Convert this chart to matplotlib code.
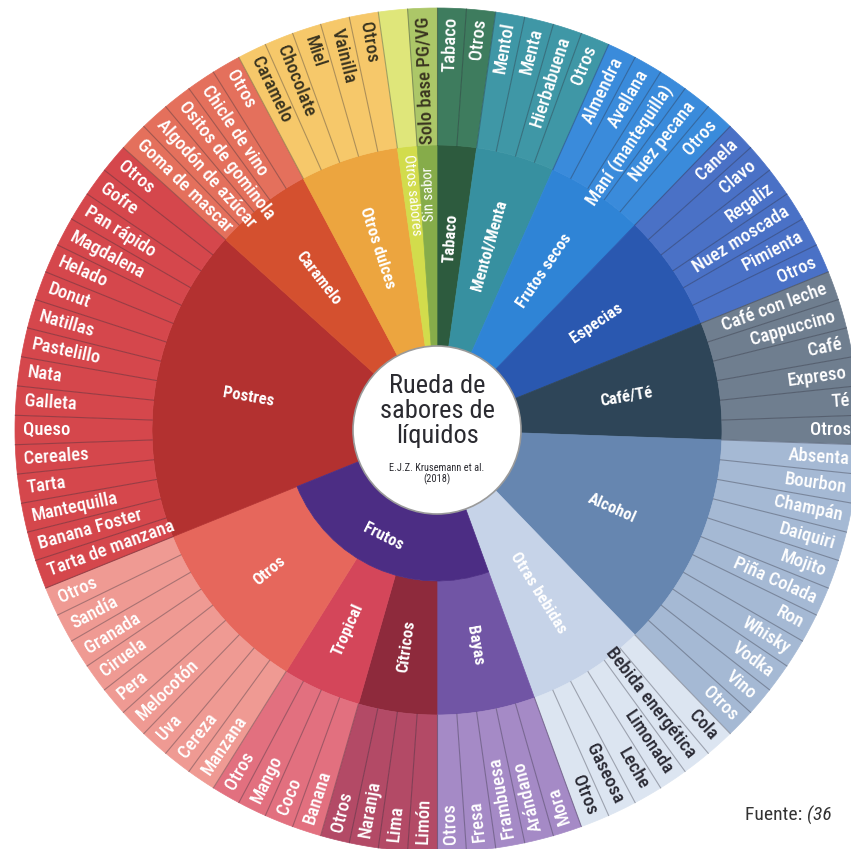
import numpy as np
import matplotlib
matplotlib.use("Agg")
import matplotlib.pyplot as plt
from matplotlib.patches import Wedge, Circle
from matplotlib import font_manager as fm

# pick a narrow face if one is installed, the reference uses a condensed sans
avail = {(f.name, f.stretch) for f in fm.fontManager.ttflist}
names = {n for n, s in avail}
narrow = None
for fam in ['Liberation Sans Narrow', 'Roboto Condensed', 'Open Sans Condensed',
            'Noto Sans Condensed', 'DejaVu Sans Condensed']:
    if fam in names:
        narrow = (fam, 'normal')
        break
if narrow is None:
    for fam in ['DejaVu Sans', 'Noto Sans', 'Open Sans', 'Roboto']:
        for st in ['condensed', 'semi-condensed']:
            if (fam, st) in avail:
                narrow = (fam, st)
                break
        if narrow:
            break
if narrow:
    plt.rcParams['font.family'] = [narrow[0], 'DejaVu Sans']
    plt.rcParams['font.stretch'] = narrow[1]
    fs_leaf, fs_mid = 13.5, 12
else:
    plt.rcParams['font.family'] = ['DejaVu Sans']
    fs_leaf, fs_mid = 11.3, 11

# middle ring categories, clockwise from 12 o'clock
categories = ["Tabaco", "Mentol/Menta", "Frutos secos", "Especias", "Café/Té",
              "Alcohol", "Otras bebidas", "Bayas", "Cítricos", "Tropical", "Otros",
              "Postres", "Caramelo", "Otros dulces", "Otros sabores", "Sin sabor"]

# outer ring labels for each category
leaves = [
    ["Tabaco", "Otros"],
    ["Mentol", "Menta", "Hierbabuena", "Otros"],
    ["Almendra", "Avellana", "Maní (mantequilla)", "Nuez pecana", "Otros"],
    ["Canela", "Clavo", "Regaliz", "Nuez moscada", "Pimienta", "Otros"],
    ["Café con leche", "Cappuccino", "Café", "Expreso", "Té", "Otros"],
    ["Absenta", "Bourbon", "Champán", "Daiquiri", "Mojito", "Piña Colada",
     "Ron", "Whisky", "Vodka", "Vino", "Otros"],
    ["Cola", "Bebida energética", "Limonada", "Leche", "Gaseosa", "Otros"],
    ["Mora", "Arándano", "Frambuesa", "Fresa", "Otros"],
    ["Limón", "Lima", "Naranja", "Otros"],
    ["Banana", "Coco", "Mango", "Otros"],
    ["Manzana", "Cereza", "Uva", "Melocotón", "Pera", "Ciruela", "Granada",
     "Sandía", "Otros"],
    ["Tarta de manzana", "Banana Foster", "Mantequilla", "Tarta", "Cereales",
     "Queso", "Galleta", "Nata", "Pastelillo", "Natillas", "Donut", "Helado",
     "Magdalena", "Pan rápido", "Gofre", "Otros"],
    ["Goma de mascar", "Algodón de azúcar", "Ositos de gominola",
     "Chicle de vino", "Otros"],
    ["Caramelo", "Chocolate", "Miel", "Vainilla", "Otros"],
    [""],
    ["Solo base PG/VG"],
]

# inner group that holds the fruit sub-categories
fruit_group = "Frutos"
fruit_idx = [7, 8, 9, 10]
thin_idx = [14, 15]   # the two narrow segments at the top

mid_colors = ["#2d5b3e", "#3790a0", "#2f84d6", "#2a58b0", "#2e4558",
              "#6686b0", "#c6d3e8", "#7155a5", "#8e2a3c", "#d4465a", "#e6675c",
              "#b33130", "#d4502f", "#eca53f", "#d2dc4c", "#86ac4a"]
leaf_colors = ["#3e7c5e", "#3f97a6", "#3a8bdb", "#4a71c6", "#6f7e8f",
               "#a5b9d4", "#dce5f1", "#a58ac6", "#b34a66", "#e2707f", "#ef9a93",
               "#d5474c", "#e4705c", "#f6c86a", "#dfe67a", "#acc768"]
leaf_text_colors = ["white"] * 6 + ["#2b2b35"] + ["white"] * 6 + ["#3a3420"] * 3
fruit_color = "#4c2d84"

cx, cy = 437, 419
r0, r_fr, r2, R = 84, 151, 285, 422

fig = plt.figure(figsize=(8.51, 8.49), dpi=100)
ax = fig.add_axes([0, 0, 1, 1])
ax.set_xlim(0, 851)
ax.set_ylim(0, 849)
ax.axis('off')

n_total = sum(len(l) for l in leaves)
step = 360.0 / n_total
a = 90.0
fruit_span = []
for k, (cat, lv, mc, lc, tc) in enumerate(zip(categories, leaves, mid_colors,
                                               leaf_colors, leaf_text_colors)):
    a_end = a - step * len(lv)
    is_fruit = k in fruit_idx
    inner = r_fr if is_fruit else r0
    if is_fruit:
        fruit_span += [a, a_end]
    ax.add_patch(Wedge((cx, cy), r2, a_end, a, width=r2 - inner, facecolor=mc,
                       edgecolor=mc, lw=0.5))
    # middle label
    am = (a + a_end) / 2
    if is_fruit:
        rm, fs, fw = (r_fr + r2) / 2 + 1, fs_mid, 'bold'
    elif k in thin_idx:
        rm, fs, fw = 236, fs_mid - 1.5, 'normal'
    else:
        rm, fs, fw = 192, fs_mid, 'bold'
    rot = am - 180 if 94 < am % 360 < 270 else am
    ax.text(cx + rm * np.cos(np.radians(am)), cy + rm * np.sin(np.radians(am)), cat,
            rotation=rot, rotation_mode='anchor', ha='center', va='center',
            color='white', fontsize=fs, fontweight=fw)
    # leaves
    for i, name in enumerate(lv):
        t2 = a - step * i
        t1 = t2 - step
        ax.add_patch(Wedge((cx, cy), R, t1, t2, width=R - r2, facecolor=lc,
                           edgecolor=lc, lw=0.5))
        tm = (t1 + t2) / 2
        rt = R - 8
        x = cx + rt * np.cos(np.radians(tm))
        y = cy + rt * np.sin(np.radians(tm))
        if 94 < tm % 360 < 290:
            ax.text(x, y, name, rotation=tm - 180, rotation_mode='anchor',
                    ha='left', va='center', color=tc, fontsize=fs_leaf,
                    fontweight='medium')
        else:
            ax.text(x, y, name, rotation=tm, rotation_mode='anchor',
                    ha='right', va='center', color=tc, fontsize=fs_leaf,
                    fontweight='medium')
    a = a_end

# separators between outer segments
for k in range(n_total):
    t = np.radians(90 - k * step)
    ax.plot([cx + r2 * np.cos(t), cx + R * np.cos(t)],
            [cy + r2 * np.sin(t), cy + R * np.sin(t)],
            color=(0.15, 0.15, 0.2, 0.35), lw=0.8)

# Frutos inner band
f1, f2 = min(fruit_span), max(fruit_span)
ax.add_patch(Wedge((cx, cy), r_fr, f1, f2, width=r_fr - r0, facecolor=fruit_color,
                   edgecolor=fruit_color, lw=0.5))
af = 243
rf = (r0 + r_fr) / 2 + 2
ax.text(cx + rf * np.cos(np.radians(af)), cy + rf * np.sin(np.radians(af)), fruit_group,
        rotation=af - 270, rotation_mode='anchor', ha='center', va='center',
        color='white', fontsize=fs_mid, fontweight='bold')

# centre disc
ax.add_patch(Circle((cx, cy), r0, facecolor='white', edgecolor='#9a9a9a', lw=1.2, zorder=5))
ax.text(cx, 438, "Rueda de\nsabores de\nlíquidos", ha='center', va='center',
        fontsize=19 if narrow else 17, color='#2a2a30', linespacing=1.05, zorder=6)
ax.text(cx, 375, "E.J.Z. Krusemann et al.\n(2018)", ha='center', va='center',
        fontsize=7.5 if narrow else 6.5, color='#2a2a30', linespacing=1.0, zorder=6)

# source note, the italic part follows the upright part
t1 = ax.text(745, 34, "Fuente: ", ha='left', va='center', fontsize=14, color='#333333')
fig.canvas.draw()
bb = t1.get_window_extent(renderer=fig.canvas.get_renderer())
x_end = ax.transData.inverted().transform((bb.x1, bb.y0))[0]
ax.text(x_end, 34, "(36", ha='left', va='center', fontsize=14, color='#333333',
        style='italic')

fig.savefig("out.png", dpi=100)
